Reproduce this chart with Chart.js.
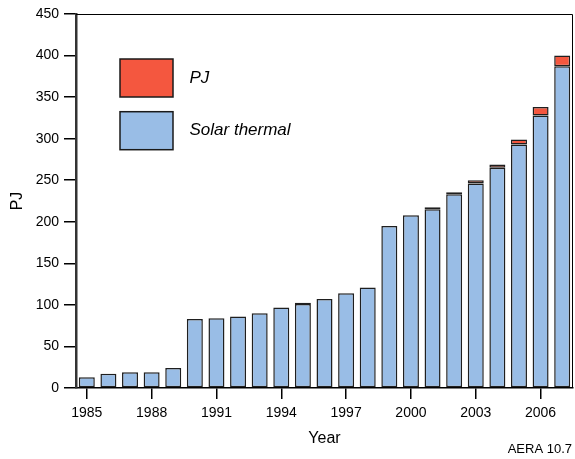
<!DOCTYPE html>
<html><head><meta charset="utf-8">
<script src="https://cdn.jsdelivr.net/npm/chart.js@4"></script>
<style>html,body{margin:0;padding:0;background:#fff}#wrap{width:575px;height:459px;position:relative}</style>
</head><body><div id="wrap"><canvas id="c" width="575" height="459"></canvas></div>
<script>
const years = ['1985','1986','1987','1988','1989','1990','1991','1992','1993','1994','1995','1996','1997','1998','1999','2000','2001','2002','2003','2004','2005','2006','2007'];
const solarThermal = [13,17,19,19,24,83,84,86,90,97,101,107,114,121,195,208,215,233,246,265,293,328,387];
const pj = [null,null,null,null,null,null,null,null,null,null,1.5,null,null,null,null,null,2.5,2.5,4,4,6,10,13];
const yTicks = [0,50,100,150,200,250,300,350,400,450];
const labelledYears = ['1985','1988','1991','1994','1997','2000','2003','2006'];
const seriesNames = ['Solar thermal','PJ'];
const sourceNote = 'AERA 10.7';

const FONT = '"Liberation Sans", Arial, Helvetica, sans-serif';

const framePlugin = {
  id: 'frame',
  afterDraw(chart) {
    const {ctx, chartArea: a} = chart;
    ctx.save();
    ctx.strokeStyle = '#000';
    ctx.lineWidth = 1;
    ctx.beginPath();
    ctx.moveTo(a.left, a.top + 0.5);
    ctx.lineTo(a.right - 0.5, a.top + 0.5);
    ctx.lineTo(a.right - 0.5, a.bottom);
    ctx.stroke();
    ctx.restore();
  }
};

const boxLegend = {
  id: 'boxLegend',
  afterDraw(chart, args, o) {
    const ctx = chart.ctx;
    const items = chart.data.datasets.slice().reverse();
    ctx.save();
    items.forEach((ds, i) => {
      const y = o.top + i * o.gap;
      ctx.fillStyle = ds.backgroundColor;
      ctx.fillRect(o.left, y, o.boxW, o.boxH);
      ctx.strokeStyle = '#1a1a1a';
      ctx.lineWidth = 1.5;
      ctx.strokeRect(o.left, y, o.boxW, o.boxH);
      ctx.fillStyle = '#000';
      ctx.font = 'italic 17px ' + FONT;
      ctx.textBaseline = 'middle';
      ctx.textAlign = 'left';
      ctx.fillText(ds.label, o.left + o.boxW + o.textGap, y + o.boxH / 2);
    });
    ctx.font = '13px ' + FONT;
    ctx.textAlign = 'right';
    ctx.textBaseline = 'middle';
    ctx.fillStyle = '#000';
    ctx.fillText(sourceNote, o.noteX, o.noteY);
    ctx.restore();
  }
};

new Chart(document.getElementById('c'), {
  type: 'bar',
  data: {
    labels: years,
    datasets: [
      { label: seriesNames[0], data: solarThermal, backgroundColor: '#99BDE6', borderColor: '#1f1f1f', borderWidth: 1.5, borderSkipped: false, barPercentage: 0.74, categoryPercentage: 1 },
      { label: seriesNames[1], data: pj, backgroundColor: '#F4573F', borderColor: '#1f1f1f', borderWidth: 1.5, borderSkipped: false, barPercentage: 0.74, categoryPercentage: 1 }
    ]
  },
  options: {
    responsive: false,
    animation: false,
    layout: { padding: { top: 14, right: 2, left: 0, bottom: 0 } },
    plugins: {
      legend: { display: false },
      tooltip: { enabled: false },
      boxLegend: { left: 120, top: 59, boxW: 53, boxH: 38, gap: 52.7, textGap: 16.5, noteX: 572, noteY: 449 }
    },
    scales: {
      x: {
        stacked: true,
        afterFit(s) { s.height = 71; },
        grid: {
          offset: false, drawOnChartArea: false, tickLength: 11, lineWidth: 1.5,
          color: (c) => (c.tick && labelledYears.includes(years[c.index])) ? '#000' : 'rgba(0,0,0,0)'
        },
        border: { display: true, color: '#000', width: 1.5 },
        ticks: {
          autoSkip: false, maxRotation: 0, padding: 6, color: '#000',
          font: { family: FONT, size: 14 },
          callback: (v, i) => labelledYears.includes(years[i]) ? years[i] : ''
        },
        title: { display: true, text: 'Year', color: '#000', font: { family: FONT, size: 16 }, padding: { top: 0, bottom: 11 } }
      },
      y: {
        stacked: true,
        min: 0, max: 450,
        afterFit(s) { s.width = 76; },
        afterBuildTicks(s) { s.ticks = yTicks.map(v => ({ value: v })); },
        grid: { drawOnChartArea: false, tickLength: 12, color: '#000', lineWidth: 1.5 },
        border: { display: true, color: '#333', width: 2.5 },
        ticks: { padding: 5, color: '#000', font: { family: FONT, size: 14 } },
        title: { display: true, text: 'PJ', color: '#000', font: { family: FONT, size: 16 }, padding: { top: 8, bottom: 0 } }
      }
    }
  },
  plugins: [framePlugin, boxLegend]
});
</script>
</body></html>
